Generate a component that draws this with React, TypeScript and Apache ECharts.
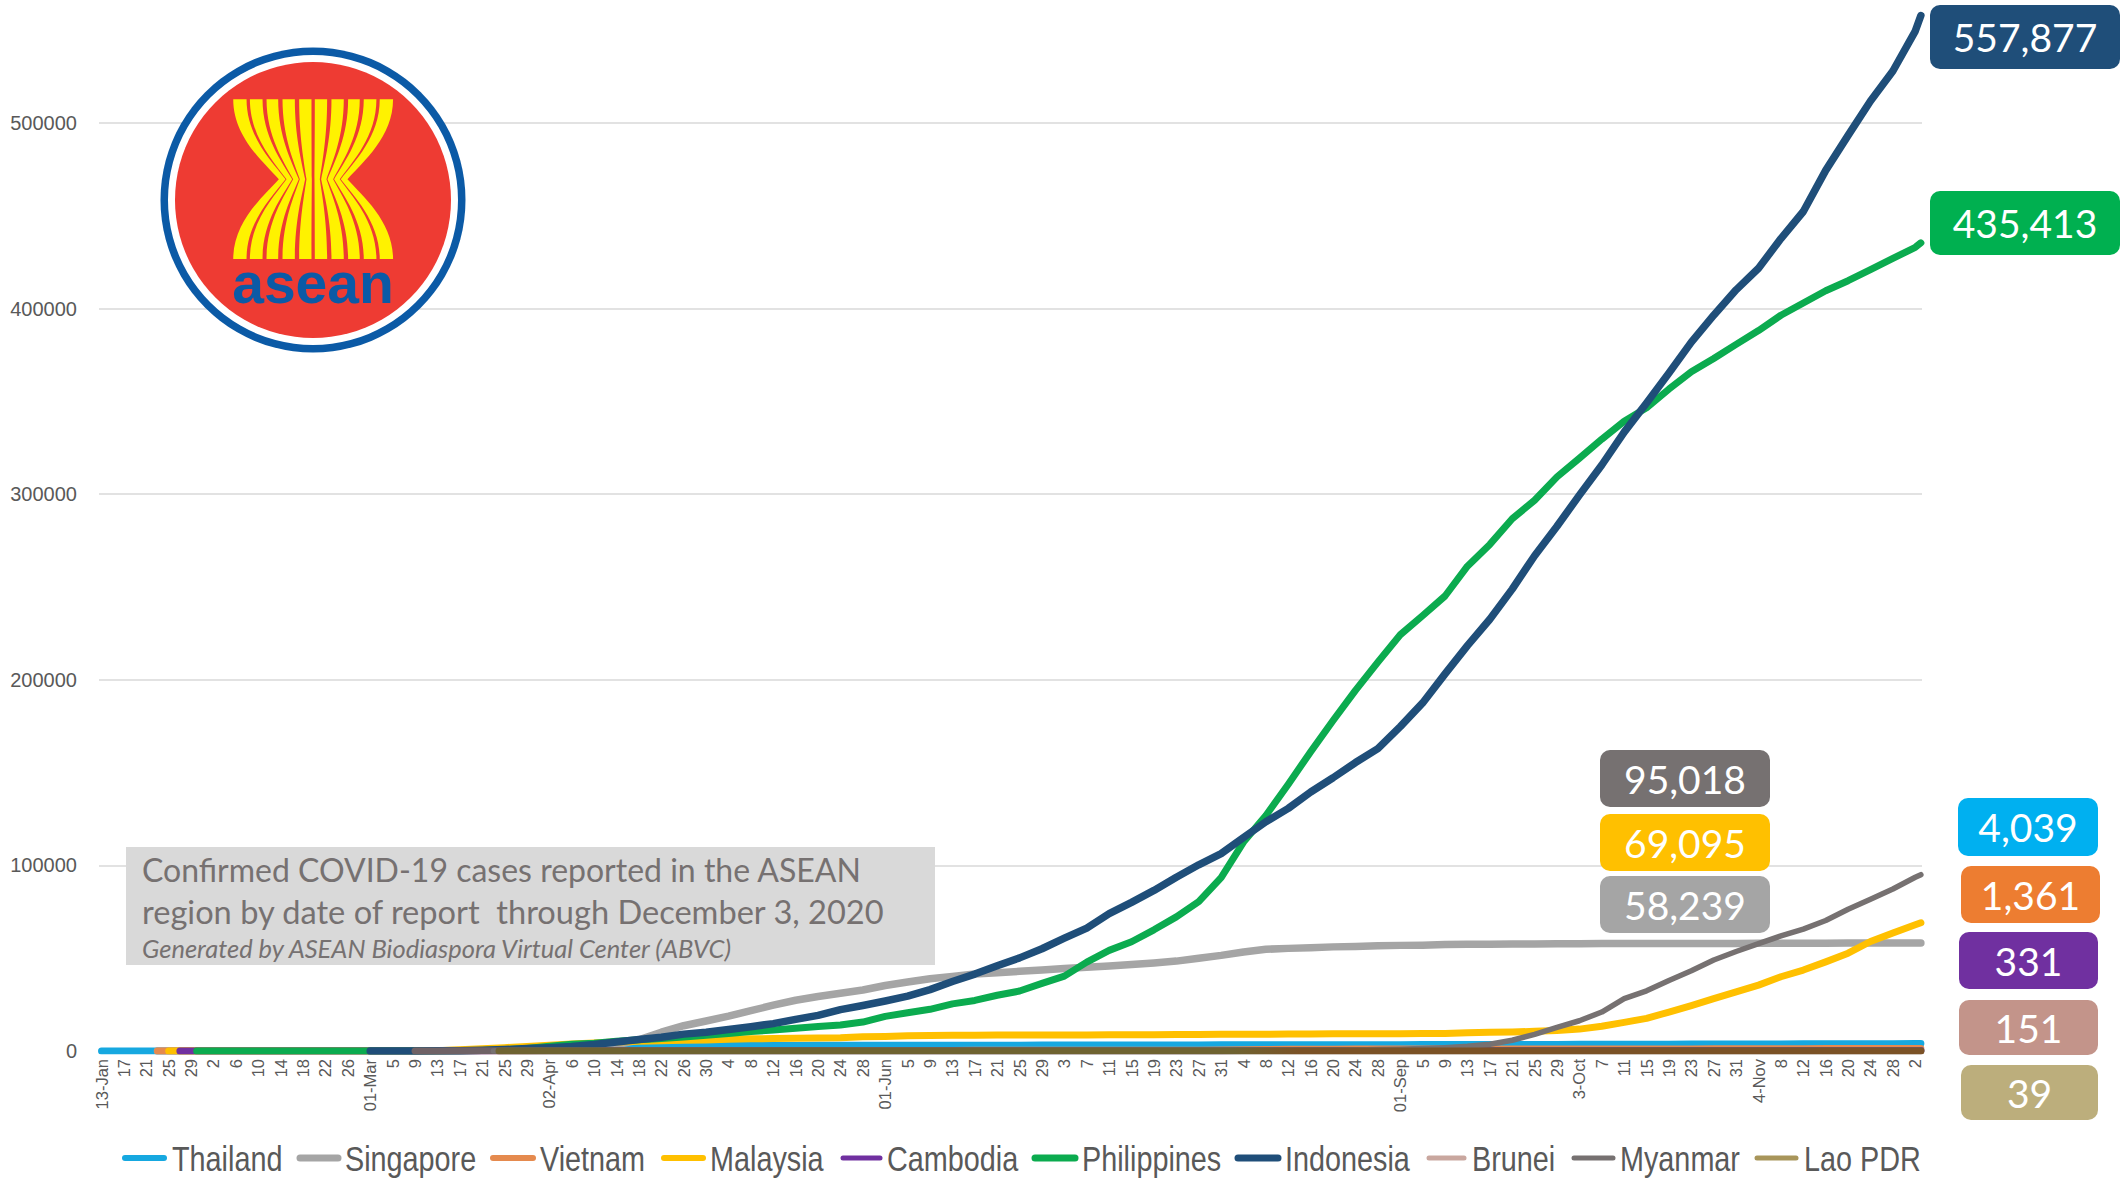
import React, { useEffect, useRef } from "react";
import * as echarts from "echarts";

const tickLabels = ["13-Jan","17","21","25","29","2","6","10","14","18","22","26","01-Mar","5","9","13","17","21","25","29","02-Apr","6","10","14","18","22","26","30","4","8","12","16","20","24","28","01-Jun","5","9","13","17","21","25","29","3","7","11","15","19","23","27","31","4","8","12","16","20","24","28","01-Sep","5","9","13","17","21","25","29","3-Oct","7","11","15","19","23","27","31","4-Nov","8","12","16","20","24","28","2"];
const lastDay = 325;

// Each list: value on the first day, value at each later 4-day tick, value on the last day.
const thailandStart = 0;
const thailand = [1,2,4,7,14,19,25,32,34,35,35,40,42,47,50,75,177,411,934,1388,1875,2220,2473,2613,2700,2826,2922,2954,2987,3000,3017,3025,3037,3042,3054,3081,3102,3125,3134,3141,3151,3158,3171,3185,3202,3216,3227,3246,3254,3291,3310,3328,3351,3359,3377,3390,3397,3411,3417,3438,3454,3475,3490,3505,3519,3559,3590,3616,3636,3679,3700,3734,3759,3775,3797,3819,3851,3875,3894,3927,3961,4008,4039];
const singaporeStart = 10;
const singapore = [1,3,10,18,30,45,67,77,89,96,106,117,160,200,266,432,631,844,1049,1375,2108,3252,5992,10141,13624,16169,18778,21707,24671,27356,29364,31068,32876,35292,37183,38965,40197,41473,42095,42955,43661,44479,45140,45783,46630,47455,48434,50000,51531,53346,54797,55292,55661,56099,56353,56717,56908,57022,57315,57488,57576,57627,57685,57765,57819,57859,57884,57901,57915,57941,57965,57980,58013,58043,58064,58091,58124,58160,58190,58228,58239];
const vietnamStart = 10;
const vietnam = [2,2,2,6,10,14,16,16,16,16,16,16,30,47,61,94,141,188,233,245,257,265,268,268,270,270,271,288,288,318,324,325,327,328,328,332,334,342,349,352,355,355,369,370,381,383,412,431,558,652,789,883,964,1007,1022,1040,1046,1049,1060,1063,1068,1069,1069,1095,1097,1099,1109,1130,1134,1144,1172,1177,1200,1215,1253,1283,1304,1312,1331,1358,1361];
const malaysiaStart = 12;
const malaysia = [3,7,8,14,18,19,22,22,23,29,55,117,197,673,1183,1796,2470,3116,3793,4346,4817,5305,5482,5780,5945,6298,6535,6742,6894,6978,7137,7619,7819,8247,8336,8445,8515,8572,8606,8639,8663,8674,8696,8734,8779,8884,8943,8976,9001,9038,9094,9200,9274,9306,9340,9354,9374,9459,9868,10052,10219,10576,11034,11800,13300,15400,17600,21000,24500,28200,31800,35500,40000,43600,48000,52700,59000,63600,68000,69095];
const cambodiaStart = 14;
const cambodia = [1,1,1,1,1,1,1,1,1,1,1,2,5,33,53,91,103,110,114,119,122,122,122,122,122,122,122,122,122,122,122,122,124,125,125,126,126,128,128,130,130,141,141,141,141,156,171,197,226,243,243,249,266,273,273,273,274,274,275,275,275,275,275,276,278,280,281,283,284,287,290,291,292,293,294,301,303,306,314,331];
const philippinesStart = 17;
const philippines = [1,2,3,3,3,3,3,3,3,3,20,64,187,307,636,1418,2633,3660,4195,5223,6087,6710,7579,8488,9485,10463,11350,12305,13221,14035,15588,18638,20626,22474,25392,27238,30052,32295,36438,40336,47873,54222,58850,65304,72269,80448,93354,112593,126885,143749,161253,178022,194252,209544,224264,234570,245143,261216,272934,286743,296755,309303,319330,329637,339341,346536,356618,366000,373144,380729,388137,396395,403000,409574,415000,421000,427000,433000,435413];
const indonesiaStart = 48;
const indonesia = [2,2,19,69,172,450,790,1285,1790,2491,3512,4839,6248,7418,9096,10118,11587,13112,14749,17025,19189,22271,24538,26940,29521,33076,37420,41431,45891,50187,55092,60796,66226,74018,80094,86521,93657,100303,106336,115056,123503,130718,139549,147211,155412,162884,174796,187537,203171,218382,232628,248852,266845,282724,299506,315714,333449,349160,365240,381910,396454,410088,421731,437716,452291,474455,493308,511836,527999,549508,557877];
const bruneiStart = 56;
const brunei = [1,50,68,83,104,120,131,135,136,136,138,138,138,138,138,141,141,141,141,141,141,141,141,141,141,141,141,141,141,141,141,141,141,141,141,141,141,141,141,141,141,141,144,144,144,145,145,145,146,146,146,146,146,146,147,147,147,147,148,148,148,148,148,148,148,148,148,148,151];
const myanmarStart = 70;
const myanmar = [5,5,10,20,22,27,74,111,127,146,151,161,178,182,187,199,203,224,228,240,261,262,276,291,292,299,309,317,326,336,340,348,353,353,355,360,366,375,430,600,800,1000,1300,1800,2500,3600,5800,9000,12700,16300,21000,28200,32400,38000,43200,49000,53600,57800,62000,65700,70300,76400,81800,87300,93600,95018];
const laoStart = 71;
const lao = [2,3,8,10,12,16,19,19,19,19,19,19,19,19,19,19,19,19,19,19,19,19,19,19,19,19,19,19,19,19,19,19,20,20,20,20,20,20,20,21,21,22,22,22,22,23,23,23,23,23,23,23,24,24,24,24,25,25,25,26,28,30,33,36,38,39];

const seriesNames = ["Thailand","Singapore","Vietnam","Malaysia","Cambodia","Philippines","Indonesia","Brunei","Myanmar","Lao PDR"];
const seriesLists = [thailand,singapore,vietnam,malaysia,cambodia,philippines,indonesia,brunei,myanmar,lao];
const seriesStarts = [thailandStart,singaporeStart,vietnamStart,malaysiaStart,cambodiaStart,philippinesStart,indonesiaStart,bruneiStart,myanmarStart,laoStart];

const yTicks = [0,100000,200000,300000,400000,500000];
const titleLines = ["Confirmed COVID-19 cases reported in the ASEAN","region by date of report  through December 3, 2020","Generated by ASEAN Biodiaspora Virtual Center (ABVC)"];
const badgeLabels = ["557,877","435,413","95,018","69,095","58,239","4,039","1,361","331","151","39"];

// styles
const lineColors = ["#16a8e0","#a5a5a5","#e58a4e","#ffc000","#7030a0","#0bab4f","#1f4e79","#6f6266","#767171","#6f6331"];
const legendColors = ["#16a8e0","#a5a5a5","#e58a4e","#ffc000","#7030a0","#0bab4f","#1f4e79","#c9a79f","#767171","#a8955a"];
const lineWidths = [7,7.5,7,7,7,7,7.5,7,5.5,7];
const legendIconSpans = [[122,167],[297,341],[490,536],[661,706],[840,883],[1032,1078],[1235,1281],[1426,1467],[1571,1616],[1754,1799]];
const legendTextX = [172,345,540,710,887,1082,1285,1472,1620,1804];
const legendIconWidths = [6,7,6,6,5,7,7,5,5,5];
const badgeBoxes = [
  [1930,5,190,64,"#1f4e79"],[1930,191,190,64,"#00b050"],
  [1600,750,170,57,"#767171"],[1600,814,170,57,"#ffc000"],[1600,876,170,57,"#a5a5a5"],
  [1958,798,140,58,"#00b0f0"],[1961,866,139,57,"#ed7d31"],[1959,932,139,57,"#7030a0"],[1959,1000,139,55,"#c3948a"],[1961,1065,137,55,"#bcae7c"],
] as const;

const stalkTopL = [310,360,410,458,508];
const stalkTopR = [350,398,445,495,545];
const stalkMidL = [447,470,490,510,530];
const stalkMidR = [467,487,507,526,546];

function stalkPath(): string {
  const one = (l: number, r: number, wl: number, wr: number, flip: boolean) => {
    const f = (x: number) => (flip ? 1100 - x : x);
    const c = (t: number, w: number) => w - (w - t) * 0.35;
    return `M${f(l)} 208L${f(r)} 208C${f(r)} 320 ${f(c(r, wr))} 395 ${f(wr)} 448C${f(c(r, wr))} 501 ${f(r)} 576 ${f(r)} 688L${f(l)} 688C${f(l)} 576 ${f(c(l, wl))} 501 ${f(wl)} 448C${f(c(l, wl))} 395 ${f(l)} 320 ${f(l)} 208Z`;
  };
  let d = "";
  for (let i = 0; i < 5; i++) {
    d += one(stalkTopL[i], stalkTopR[i], stalkMidL[i], stalkMidR[i], false);
    d += one(stalkTopL[i], stalkTopR[i], stalkMidL[i], stalkMidR[i], true);
  }
  return d;
}
echarts.graphic.registerShape("aseanStalks", echarts.graphic.extendPath(stalkPath(), {}) as any);

const sansUI = "Lato, 'Open Sans', sans-serif";
const sansPlain = "'Liberation Sans', Arial, sans-serif";

function buildPoints(list: number[], start: number): [number, number][] {
  const ticks = tickLabels.map((_, i) => i * 4).filter((d) => d > start);
  const pts: [number, number][] = [[start, list[0]]];
  ticks.forEach((d, j) => pts.push([d, list[j + 1]]));
  pts.push([lastDay, list[list.length - 1]]);
  return pts;
}

export default function App() {
  const ref = useRef<HTMLDivElement>(null);
  useEffect(() => {
    const chart = echarts.init(ref.current!, undefined, { renderer: "svg" });
    const graphic: any[] = [
      { type: "rect", z: 10, shape: { x: 126, y: 847, width: 809, height: 118 }, style: { fill: "#d9d9d9" } },
      { type: "text", z: 11, x: 142, y: 869, style: { text: titleLines[0], fill: "#767171", fontFamily: sansUI, fontSize: 32, verticalAlign: "middle" } },
      { type: "text", z: 11, x: 142, y: 911, style: { text: titleLines[1], fill: "#767171", fontFamily: sansUI, fontSize: 32.6, verticalAlign: "middle" } },
      { type: "text", z: 11, x: 142, y: 948, style: { text: titleLines[2], fill: "#767171", fontFamily: sansUI, fontStyle: "italic", fontSize: 25.5, verticalAlign: "middle" } },
      { type: "circle", z: 10, shape: { cx: 313, cy: 200, r: 152.5 }, style: { fill: "#0b5aa6" } },
      { type: "circle", z: 11, shape: { cx: 313, cy: 200, r: 145 }, style: { fill: "#ffffff" } },
      { type: "circle", z: 12, shape: { cx: 313, cy: 200, r: 138 }, style: { fill: "#ee3b33" } },
      { type: "aseanStalks", z: 13, x: 130, y: 30, scaleX: 1 / 3, scaleY: 1 / 3, style: { fill: "#fff200" } },
      { type: "text", z: 13, x: 313, y: 283, style: { text: "asean", fill: "#0b5aa6", fontFamily: sansPlain, fontWeight: "bold", fontSize: 57, align: "center", verticalAlign: "middle" } },
    ];
    badgeBoxes.forEach((b, i) => {
      graphic.push({ type: "rect", z: 10, shape: { x: b[0], y: b[1], width: b[2], height: b[3], r: 10 }, style: { fill: b[4] } });
      graphic.push({ type: "text", z: 11, x: (b[0] as number) + (b[2] as number) / 2, y: (b[1] as number) + (b[3] as number) / 2, style: { text: badgeLabels[i], fill: "#ffffff", fontFamily: sansUI, fontSize: 39, align: "center", verticalAlign: "middle" } });
    });
    seriesNames.forEach((name, i) => {
      const [x1, x2] = legendIconSpans[i];
      graphic.push({ type: "line", z: 10, shape: { x1: x1 + 3, y1: 1158, x2: x2 - 3, y2: 1158 }, style: { stroke: legendColors[i], lineWidth: legendIconWidths[i], lineCap: "round" } });
      graphic.push({ type: "text", z: 10, x: legendTextX[i], y: 1158, scaleX: 0.8, style: { text: name, fill: "#595959", fontFamily: sansPlain, fontSize: 36, verticalAlign: "middle" } });
    });
    chart.setOption({
      animation: false,
      backgroundColor: "#ffffff",
      grid: { left: 99, right: 2124 - 1922, top: 11.6, height: 1039.4, containLabel: false, outerBoundsMode: "none" },
      xAxis: {
        type: "value", min: -0.45, max: 325.2,
        splitLine: { show: false }, axisLine: { show: false }, axisTick: { show: false },
        axisLabel: {
          customValues: tickLabels.map((_, i) => i * 4),
          formatter: (v: number) => tickLabels[Math.round(v / 4)],
          rotate: 90, margin: 8, color: "#595959", fontFamily: sansPlain, fontSize: 16.5,
        },
      },
      yAxis: {
        type: "value", min: 0, max: 560000, interval: 100000,
        axisLine: { show: false }, axisTick: { show: false },
        splitLine: { show: true, showMaxLine: false, lineStyle: { color: "#d9d9d9", width: 1.5 } },
        axisLabel: {
          customValues: yTicks, margin: 22, color: "#595959",
          formatter: (v: number) => String(v),
          fontFamily: sansPlain, fontSize: 20,
        },
      },
      series: seriesNames.map((name, i) => ({
        name, type: "line", showSymbol: false, symbol: "none",
        data: buildPoints(seriesLists[i], seriesStarts[i]),
        z: 3 + i,
        lineStyle: {
          width: lineWidths[i], cap: "round", join: "round",
          color: name === "Lao PDR"
            ? new echarts.graphic.LinearGradient(0, 0, 2124, 0, [
                { offset: 0, color: lineColors[i] },
                { offset: 1233 / 2124, color: lineColors[i] },
                { offset: 1300 / 2124, color: "#7b5226" },
                { offset: 1, color: "#7b5226" },
              ], true)
            : lineColors[i],
        },
        itemStyle: { color: legendColors[i] },
      })),
      graphic,
    });
    return () => chart.dispose();
  }, []);
  return <div ref={ref} style={{ position: "fixed", left: 0, top: 0, width: 2124, height: 1178 }} />;
}
